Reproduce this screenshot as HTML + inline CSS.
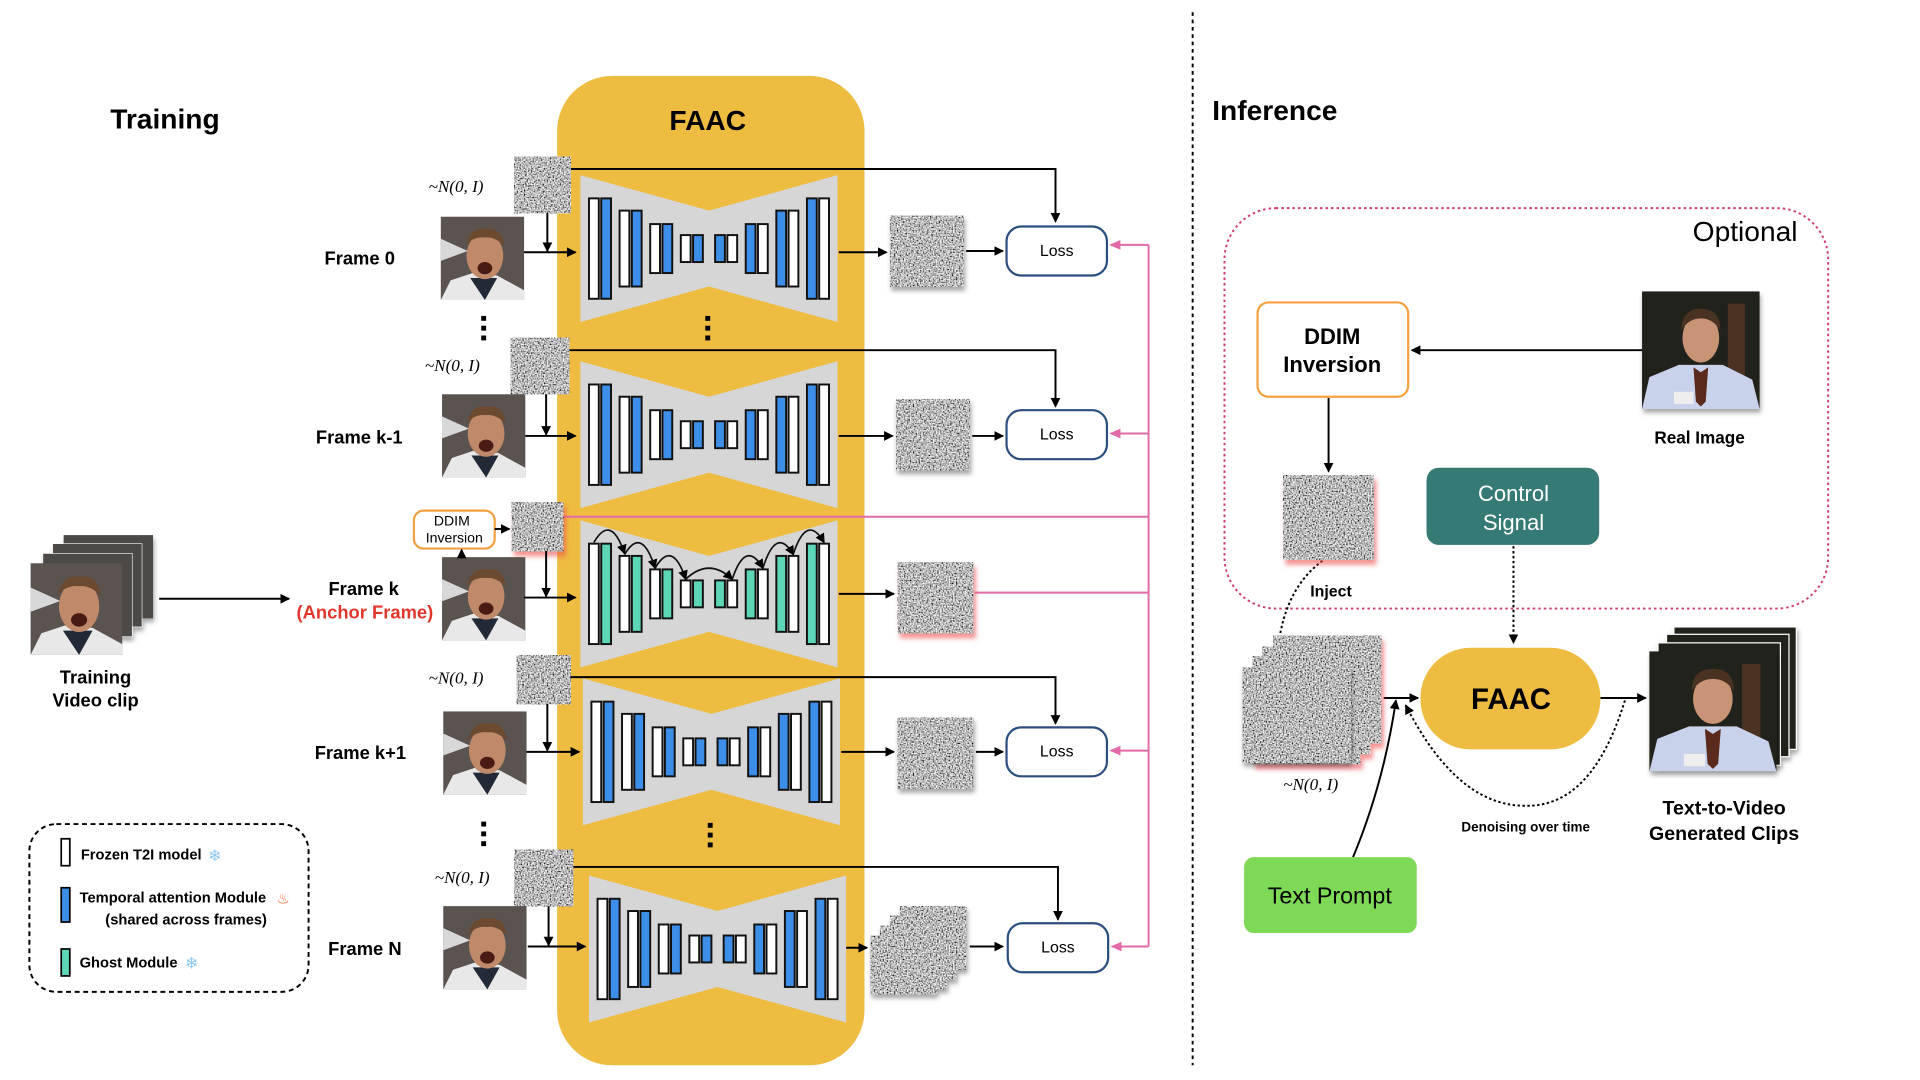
<!DOCTYPE html>
<html><head><meta charset="utf-8"><style>
html,body{margin:0;padding:0;background:#fff;}
svg{display:block;}
text{font-family:"Liberation Sans",sans-serif;}
.b{font-weight:bold;}
.m{font-family:"Liberation Serif",serif;font-style:italic;font-size:14px;}
</style></head><body>
<svg width="1920" height="1080" viewBox="0 0 1568 882" preserveAspectRatio="none" xmlns="http://www.w3.org/2000/svg">
<defs>
<filter id="n" x="0" y="0" width="100%" height="100%">
<feTurbulence type="fractalNoise" baseFrequency="0.85" numOctaves="1" seed="3"/>
<feColorMatrix values="2.2 0 0 0 -0.6  2.2 0 0 0 -0.6  2.2 0 0 0 -0.6  0 0 0 0 1"/>
</filter>
<filter id="sh" x="-20%" y="-20%" width="150%" height="150%"><feDropShadow dx="1" dy="3" stdDeviation="2" flood-color="#000" flood-opacity="0.35"/></filter>
<filter id="shr" x="-20%" y="-20%" width="150%" height="150%"><feDropShadow dx="2" dy="4" stdDeviation="2" flood-color="#f05050" flood-opacity="0.6"/></filter>
<marker id="ah" markerWidth="8" markerHeight="8" refX="7" refY="4" orient="auto" markerUnits="userSpaceOnUse"><path d="M0,0 L8,4 L0,8 z" fill="#000"/></marker>
<marker id="ap" markerWidth="9" markerHeight="8" refX="8" refY="4" orient="auto" markerUnits="userSpaceOnUse"><path d="M0,0 L9,4 L0,8 z" fill="#e26aa8"/></marker>
<g id="face1">
<rect x="0" y="0" width="68" height="68" fill="#5a5350"/>
<polygon points="0,18 22,28 0,36" fill="#d8d8d8"/>
<path d="M0,68 L8,52 L26,46 L46,48 L68,60 L68,68z" fill="#e8e8e8"/>
<path d="M24,50 L36,68 L46,50z" fill="#222a38"/>
<ellipse cx="36" cy="32" rx="15" ry="19" fill="#c08a6a"/>
<path d="M20,24 Q24,8 36,10 Q50,8 52,24 Q44,16 36,17 Q26,16 20,24z" fill="#6b4a30"/>
<ellipse cx="36" cy="42" rx="6" ry="5" fill="#4a1a14"/>
</g>
<g id="face2">
<rect x="0" y="0" width="96" height="96" fill="#24201a"/>
<rect x="70" y="10" width="14" height="60" fill="#4a3020"/>
<path d="M0,96 L6,70 L30,60 L66,60 L90,72 L96,96z" fill="#c8d2ea"/>
<path d="M42,62 L48,66 L54,62 L52,90 L48,94 L44,90z" fill="#5a2a1a"/>
<ellipse cx="48" cy="38" rx="15" ry="20" fill="#c89474"/>
<path d="M32,32 Q32,14 48,14 Q64,14 64,32 Q58,22 48,22 Q38,22 32,32z" fill="#4a3020"/>
<rect x="26" y="82" width="16" height="10" fill="#eee"/>
</g>
<g id="unet">
<polygon points="-105,-60 0,-31 105,-60 105,60 0,31 -105,60" fill="#d6d6d6"/>
<g stroke="#111" stroke-width="1.6">
<rect x="-98" y="-41" width="8" height="82" fill="#fff"/><rect x="-88" y="-41" width="8" height="82" fill="#3d8ee8"/>
<rect x="-73" y="-31" width="8" height="62" fill="#fff"/><rect x="-63" y="-31" width="8" height="62" fill="#3d8ee8"/>
<rect x="-48" y="-20" width="8" height="40" fill="#fff"/><rect x="-38" y="-20" width="8" height="40" fill="#3d8ee8"/>
<rect x="-23" y="-11" width="8" height="22" fill="#fff"/><rect x="-13" y="-11" width="8" height="22" fill="#3d8ee8"/>
<rect x="5" y="-11" width="8" height="22" fill="#3d8ee8"/><rect x="15" y="-11" width="8" height="22" fill="#fff"/>
<rect x="30" y="-20" width="8" height="40" fill="#3d8ee8"/><rect x="40" y="-20" width="8" height="40" fill="#fff"/>
<rect x="55" y="-31" width="8" height="62" fill="#3d8ee8"/><rect x="65" y="-31" width="8" height="62" fill="#fff"/>
<rect x="80" y="-41" width="8" height="82" fill="#3d8ee8"/><rect x="90" y="-41" width="8" height="82" fill="#fff"/>
</g>
</g>
<g id="gunet">
<polygon points="-105,-60 0,-31 105,-60 105,60 0,31 -105,60" fill="#d6d6d6"/>
<g stroke="#111" stroke-width="1.6">
<rect x="-98" y="-41" width="8" height="82" fill="#fff"/><rect x="-88" y="-41" width="8" height="82" fill="#5dd6b8"/>
<rect x="-73" y="-31" width="8" height="62" fill="#fff"/><rect x="-63" y="-31" width="8" height="62" fill="#5dd6b8"/>
<rect x="-48" y="-20" width="8" height="40" fill="#fff"/><rect x="-38" y="-20" width="8" height="40" fill="#5dd6b8"/>
<rect x="-23" y="-11" width="8" height="22" fill="#fff"/><rect x="-13" y="-11" width="8" height="22" fill="#5dd6b8"/>
<rect x="5" y="-11" width="8" height="22" fill="#5dd6b8"/><rect x="15" y="-11" width="8" height="22" fill="#fff"/>
<rect x="30" y="-20" width="8" height="40" fill="#5dd6b8"/><rect x="40" y="-20" width="8" height="40" fill="#fff"/>
<rect x="55" y="-31" width="8" height="62" fill="#5dd6b8"/><rect x="65" y="-31" width="8" height="62" fill="#fff"/>
<rect x="80" y="-41" width="8" height="82" fill="#5dd6b8"/><rect x="90" y="-41" width="8" height="82" fill="#fff"/>
</g>
<g fill="none" stroke="#111" stroke-width="1.4" marker-end="url(#ah)">
<path d="M-94,-42 Q-80,-66 -69,-33"/>
<path d="M-69,-32 Q-55,-56 -44,-21"/>
<path d="M-44,-21 Q-30,-45 -19,-12"/>
<path d="M-19,-12 Q0,-30 19,-12"/>
<path d="M19,-12 Q30,-45 44,-21"/>
<path d="M44,-21 Q55,-56 69,-32"/>
<path d="M69,-33 Q80,-66 94,-42"/>
</g>
</g>
</defs>

<!-- TRAINING -->
<text x="90" y="105" class="b" font-size="23">Training</text>
<rect x="455" y="62" width="251" height="808" rx="45" fill="#eebc40"/>
<text x="578" y="106" class="b" font-size="23" text-anchor="middle">FAAC</text>

<g stroke="#000" stroke-width="1.6" fill="none">
<path d="M466,138 H862 V181" marker-end="url(#ah)"/>
<path d="M465,286 H862 V332" marker-end="url(#ah)"/>
<path d="M466,553 H862 V591" marker-end="url(#ah)"/>
<path d="M468,708 H864 V751" marker-end="url(#ah)"/>
</g>
<g stroke="#e26aa8" stroke-width="1.6" fill="none">
<path d="M460,422 H938 V773"/>
<path d="M938,200 V422"/>
<path d="M796,484 H938"/>
<path d="M938,200 H907" marker-end="url(#ap)"/>
<path d="M938,354 H907" marker-end="url(#ap)"/>
<path d="M938,613 H907" marker-end="url(#ap)"/>
<path d="M938,773 H908" marker-end="url(#ap)"/>
</g>

<use href="#unet" transform="translate(579,203)"/>
<use href="#unet" transform="translate(579,355)"/>
<use href="#gunet" transform="translate(579,485)"/>
<use href="#unet" transform="translate(581,614)"/>
<use href="#unet" transform="translate(586,775)"/>
<g fill="#000">
<rect x="576" y="258" width="4" height="4"/><rect x="576" y="266" width="4" height="4"/><rect x="576" y="274" width="4" height="4"/>
<rect x="578" y="672" width="4" height="4"/><rect x="578" y="680" width="4" height="4"/><rect x="578" y="688" width="4" height="4"/>
<rect x="393" y="258" width="4" height="4"/><rect x="393" y="266" width="4" height="4"/><rect x="393" y="274" width="4" height="4"/>
<rect x="393" y="671" width="4" height="4"/><rect x="393" y="679" width="4" height="4"/><rect x="393" y="687" width="4" height="4"/>
</g>

<!-- row 0 -->
<rect x="420" y="128" width="46" height="46" filter="url(#n)"/>
<text x="350" y="157" class="m">~N(0, I)</text>
<use href="#face1" transform="translate(360,177)"/>
<text x="265" y="216" class="b" font-size="15">Frame 0</text>
<g stroke="#000" stroke-width="1.6" fill="none">
<path d="M428,206 H470" marker-end="url(#ah)"/><path d="M447,174 V205" marker-end="url(#ah)"/>
<path d="M685,206 H724" marker-end="url(#ah)"/><path d="M789,205 H819" marker-end="url(#ah)"/>
</g>
<g filter="url(#sh)"><rect x="727" y="176" width="60" height="58" filter="url(#n)"/></g>
<rect x="822" y="185" width="82" height="40" rx="12" fill="#fff" stroke="#2a4e7f" stroke-width="1.8"/>
<text x="863" y="209" font-size="13" text-anchor="middle">Loss</text>

<!-- row k-1 -->
<rect x="417" y="276" width="48" height="46" filter="url(#n)"/>
<text x="347" y="303" class="m">~N(0, I)</text>
<use href="#face1" transform="translate(361,322)"/>
<text x="258" y="362" class="b" font-size="15">Frame k-1</text>
<g stroke="#000" stroke-width="1.6" fill="none">
<path d="M429,356 H470" marker-end="url(#ah)"/><path d="M446,322 V355" marker-end="url(#ah)"/>
<path d="M685,356 H729" marker-end="url(#ah)"/><path d="M794,356 H819" marker-end="url(#ah)"/>
</g>
<g filter="url(#sh)"><rect x="732" y="326" width="60" height="58" filter="url(#n)"/></g>
<rect x="822" y="335" width="82" height="40" rx="12" fill="#fff" stroke="#2a4e7f" stroke-width="1.8"/>
<text x="863" y="359" font-size="13" text-anchor="middle">Loss</text>

<!-- row k -->
<rect x="338" y="417" width="66" height="31" rx="8" fill="#fff" stroke="#f0a040" stroke-width="1.8"/>
<text x="369" y="429" font-size="11.5" text-anchor="middle">DDIM</text>
<text x="371" y="443" font-size="11.5" text-anchor="middle">Inversion</text>
<g filter="url(#shr)"><rect x="418" y="410" width="42" height="40" filter="url(#n)"/></g>
<use href="#face1" transform="translate(361,455)"/>
<text x="297" y="486" class="b" font-size="15" text-anchor="middle">Frame k</text>
<text x="298" y="505" class="b" font-size="15" text-anchor="middle" fill="#e0362b">(Anchor Frame)</text>
<g stroke="#000" stroke-width="1.6" fill="none">
<path d="M404,432 H416" marker-end="url(#ah)"/><path d="M377,455 V449" marker-end="url(#ah)"/>
<path d="M428,488 H470" marker-end="url(#ah)"/><path d="M446,450 V487" marker-end="url(#ah)"/>
<path d="M685,485 H730" marker-end="url(#ah)"/>
<path d="M130,489 H236" marker-end="url(#ah)"/>
</g>
<g filter="url(#shr)"><rect x="733" y="459" width="62" height="58" filter="url(#n)"/></g>

<!-- row k+1 -->
<rect x="422" y="535" width="44" height="40" filter="url(#n)"/>
<text x="350" y="558" class="m">~N(0, I)</text>
<use href="#face1" transform="translate(362,581)"/>
<text x="257" y="620" class="b" font-size="15">Frame k+1</text>
<g stroke="#000" stroke-width="1.6" fill="none">
<path d="M430,614 H473" marker-end="url(#ah)"/><path d="M447,575 V613" marker-end="url(#ah)"/>
<path d="M687,614 H730" marker-end="url(#ah)"/><path d="M797,614 H819" marker-end="url(#ah)"/>
</g>
<g filter="url(#sh)"><rect x="733" y="586" width="62" height="58" filter="url(#n)"/></g>
<rect x="822" y="594" width="82" height="40" rx="12" fill="#fff" stroke="#2a4e7f" stroke-width="1.8"/>
<text x="863" y="618" font-size="13" text-anchor="middle">Loss</text>

<!-- row N -->
<rect x="420" y="694" width="48" height="46" filter="url(#n)"/>
<text x="355" y="721" class="m">~N(0, I)</text>
<use href="#face1" transform="translate(362,740)"/>
<text x="268" y="780" class="b" font-size="15">Frame N</text>
<g stroke="#000" stroke-width="1.6" fill="none">
<path d="M431,773 H478" marker-end="url(#ah)"/><path d="M448,740 V772" marker-end="url(#ah)"/>
<path d="M691,774 H708" marker-end="url(#ah)"/><path d="M792,773 H819" marker-end="url(#ah)"/>
</g>
<g filter="url(#sh)">
<rect x="735" y="740" width="54" height="52" filter="url(#n)"/>
<rect x="727" y="748" width="54" height="52" filter="url(#n)"/>
<rect x="719" y="756" width="54" height="52" filter="url(#n)"/>
<rect x="711" y="764" width="54" height="48" filter="url(#n)"/>
</g>
<rect x="823" y="754" width="82" height="40" rx="12" fill="#fff" stroke="#2a4e7f" stroke-width="1.8"/>
<text x="864" y="778" font-size="13" text-anchor="middle">Loss</text>

<!-- training clip -->
<g filter="url(#sh)">
<rect x="52" y="437" width="73" height="68" fill="#4e4846"/>
<rect x="43" y="444" width="73" height="68" fill="#4e4846" stroke="#fff" stroke-width="0.5"/>
<rect x="35" y="452" width="73" height="68" fill="#4e4846" stroke="#fff" stroke-width="0.5"/>
</g>
<use href="#face1" transform="translate(25,460) scale(1.1,1.1)"/>
<text x="78" y="558" class="b" font-size="15" text-anchor="middle">Training</text>
<text x="78" y="577" class="b" font-size="15" text-anchor="middle">Video clip</text>

<!-- legend -->
<rect x="24" y="673" width="228" height="137" rx="22" fill="none" stroke="#000" stroke-width="1.6" stroke-dasharray="4,3"/>
<rect x="50" y="685" width="7" height="22" fill="#fff" stroke="#000" stroke-width="1.4"/>
<text x="66" y="702" class="b" font-size="12">Frozen T2I model</text>
<text x="170" y="703" font-size="13" fill="#8cc8f0">❄</text>
<rect x="50" y="725" width="7" height="28" fill="#3d8ee8" stroke="#000" stroke-width="1.4"/>
<text x="65" y="737" class="b" font-size="12">Temporal attention Module</text>
<text x="226" y="738" font-size="12" fill="#f06020">♨</text>
<text x="86" y="755" class="b" font-size="12">(shared across frames)</text>
<rect x="50" y="775" width="7" height="22" fill="#5dd6b8" stroke="#000" stroke-width="1.4"/>
<text x="65" y="790" class="b" font-size="12">Ghost Module</text>
<text x="151" y="791" font-size="13" fill="#8cc8f0">❄</text>

<line x1="974" y1="10" x2="974" y2="870" stroke="#000" stroke-width="1.6" stroke-dasharray="3,3"/>

<!-- INFERENCE -->
<text x="990" y="98" class="b" font-size="23">Inference</text>
<rect x="1000" y="170" width="493" height="327" rx="42" fill="none" stroke="#d03a78" stroke-width="1.6" stroke-dasharray="2,2.5"/>
<text x="1468" y="197" font-size="23" text-anchor="end">Optional</text>
<rect x="1027" y="247" width="123" height="77" rx="9" fill="#fff" stroke="#f5a040" stroke-width="1.8"/>
<text x="1088" y="281" class="b" font-size="18" text-anchor="middle">DDIM</text>
<text x="1088" y="304" class="b" font-size="18" text-anchor="middle">Inversion</text>
<g filter="url(#sh)"><use href="#face2" transform="translate(1341,238)"/></g>
<text x="1388" y="362" class="b" font-size="14" text-anchor="middle">Real Image</text>
<g stroke="#000" stroke-width="1.6" fill="none">
<path d="M1341,286 H1153" marker-end="url(#ah)"/>
<path d="M1085,325 V385" marker-end="url(#ah)"/>
<path d="M1130,570 H1158" marker-end="url(#ah)"/>
<path d="M1307,570 H1344" marker-end="url(#ah)"/>
<path d="M1105,700 Q1130,640 1140,572" marker-end="url(#ah)"/>
</g>
<g stroke="#000" stroke-width="1.6" fill="none" stroke-dasharray="2,2">
<path d="M1236,446 V525" marker-end="url(#ah)"/>
<path d="M1080,458 Q1050,480 1044,527" marker-end="url(#ah)"/>
<path d="M1327,572 Q1300,660 1245,658 Q1190,658 1148,576" marker-end="url(#ah)"/>
</g>
<g filter="url(#shr)"><rect x="1048" y="388" width="74" height="69" filter="url(#n)"/></g>
<text x="1070" y="487" class="b" font-size="13">Inject</text>
<rect x="1165" y="382" width="141" height="63" rx="10" fill="#357a75"/>
<text x="1236" y="409" font-size="18" text-anchor="middle" fill="#fff">Control</text>
<text x="1236" y="433" font-size="18" text-anchor="middle" fill="#fff">Signal</text>
<rect x="1160" y="529" width="147" height="83" rx="41" fill="#eebc40"/>
<text x="1234" y="579" class="b" font-size="24" text-anchor="middle">FAAC</text>
<g filter="url(#shr)">
<rect x="1040" y="519" width="88" height="88" filter="url(#n)"/>
<rect x="1031" y="528" width="88" height="88" filter="url(#n)"/>
<rect x="1023" y="536" width="88" height="88" filter="url(#n)"/>
</g>
<g filter="url(#sh)"><rect x="1015" y="545" width="88" height="78" filter="url(#n)"/></g>
<text x="1048" y="645" class="m">~N(0, I)</text>
<text x="1246" y="679" class="b" font-size="11" text-anchor="middle">Denoising over time</text>
<rect x="1016" y="700" width="141" height="62" rx="8" fill="#7ed957"/>
<text x="1086" y="738" font-size="19" text-anchor="middle">Text Prompt</text>
<g filter="url(#sh)">
<rect x="1367" y="512" width="100" height="100" fill="#24201a" stroke="#fff"/>
<rect x="1361" y="518" width="100" height="100" fill="#24201a" stroke="#fff"/>
<rect x="1354" y="525" width="100" height="100" fill="#24201a" stroke="#fff"/>
</g>
<g filter="url(#sh)"><use href="#face2" transform="translate(1347,532) scale(1.08,1.02)"/></g>
<text x="1408" y="665" class="b" font-size="16" text-anchor="middle">Text-to-Video</text>
<text x="1408" y="686" class="b" font-size="16" text-anchor="middle">Generated Clips</text>
</svg>
</body></html>
